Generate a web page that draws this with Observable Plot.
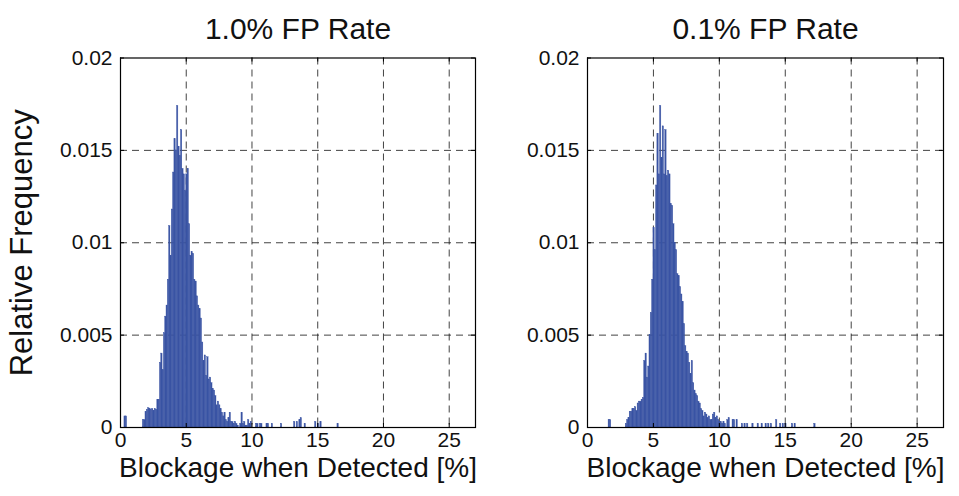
<!DOCTYPE html>
<html><head><meta charset="utf-8">
<script src="https://cdn.jsdelivr.net/npm/d3@7"></script>
<script src="https://cdn.jsdelivr.net/npm/@observablehq/plot@0.6"></script>
<style>
html,body{margin:0;padding:0;background:#fff;}
#wrap{position:relative;width:959px;height:496px;overflow:hidden;background:#fff;}
#wrap svg{position:absolute;top:0;}
</style></head><body><div id="wrap"></div>
<script>
const panelTitles = ["1.0% FP Rate", "0.1% FP Rate"];
const xLabel = "Blockage when Detected [%]";
const yLabel = "Relative Frequency";
const xTicks = [0, 5, 10, 15, 20, 25];
const yTicks = [0, 0.005, 0.01, 0.015, 0.02];
const yTickLabels = ["0", "0.005", "0.01", "0.015", "0.02"];
const binWidth = 0.1;

// [bin start, relative frequency] — 1.0% FP rate
const fp10Hist = [
  [0.3,0.0006],[0.4,0.0006],
  [1.7,0.0004],[1.8,0.0004],[1.9,0.00084],[2.0,0.00095],[2.1,0.00104],[2.2,0.001],[2.3,0.00095],[2.4,0.001],
  [2.5,0.0009],[2.6,0.001],[2.7,0.00095],[2.8,0.0015],[2.9,0.0015],[3.0,0.0035],[3.1,0.004],[3.2,0.0031],
  [3.3,0.0051],[3.4,0.006],[3.5,0.0066],[3.6,0.008],[3.7,0.0109],[3.8,0.0093],[3.9,0.0118],[4.0,0.0138],
  [4.1,0.0156],[4.2,0.015],[4.3,0.0174],[4.4,0.0152],[4.5,0.0147],[4.6,0.0161],[4.7,0.014],[4.8,0.0137],
  [4.9,0.0128],[5.0,0.0137],[5.1,0.014],[5.2,0.011],[5.3,0.0093],[5.4,0.0095],[5.5,0.0094],[5.6,0.008],
  [5.7,0.0079],[5.8,0.0071],[5.9,0.0066],[6.0,0.0064],[6.1,0.0059],[6.2,0.0046],[6.3,0.0036],[6.4,0.0039],
  [6.5,0.0028],[6.6,0.0038],[6.7,0.0026],[6.8,0.0027],[6.9,0.0024],[7.0,0.0021],[7.1,0.002],[7.2,0.0017],
  [7.3,0.0012],[7.4,0.0014],[7.5,0.0012],[7.6,0.001],[7.7,0.0008],[7.8,0.0006],[7.9,0.0008],[8.0,0.0004],
  [8.1,0.0003],[8.2,0.0005],[8.3,0.0008],[8.4,0.0003],[8.5,0.0003],[8.6,0.0002],[8.7,0.0003],[8.8,0.0002],
  [8.9,0.0001],[9.1,0.0002],[9.2,0.0008],[9.3,0.0002],[9.4,0.0003],[9.5,0.0001],[9.6,0.0001],[9.7,0.0004],
  [9.8,0.0002],[9.9,0.0003],[10.3,0.0002],[10.4,0.0002],[10.6,0.0002],[10.7,0.0002],[11.1,0.0002],
  [11.2,0.0002],[11.5,0.0002],[12.2,0.0002],[13.2,0.0003],[13.4,0.0003],[13.6,0.0004],[13.7,0.0005],
  [14.0,0.0002],[14.8,0.0003],[15.0,0.0002],[15.2,0.0003],[16.5,0.0002]
];

// [bin start, relative frequency] — 0.1% FP rate
const fp01Hist = [
  [1.6,0.0004],[1.7,0.0004],[2.9,0.0002],[3.0,0.0004],[3.1,0.0005],[3.2,0.00085],[3.3,0.00085],[3.4,0.001],
  [3.5,0.001],[3.6,0.0011],[3.7,0.0009],[3.8,0.0013],[3.9,0.0014],[4.0,0.0014],[4.1,0.0015],[4.2,0.0016],
  [4.3,0.0036],[4.4,0.004],[4.5,0.0027],[4.6,0.0033],[4.7,0.005],[4.8,0.0062],[4.9,0.008],[5.0,0.0108],
  [5.1,0.0096],[5.2,0.0131],[5.3,0.0159],[5.4,0.0137],[5.5,0.0174],[5.6,0.0146],[5.7,0.0163],[5.8,0.0137],
  [5.9,0.0161],[6.0,0.0136],[6.1,0.0139],[6.2,0.0137],[6.3,0.0121],[6.4,0.012],[6.5,0.011],[6.6,0.01],
  [6.7,0.0096],[6.8,0.0083],[6.9,0.0082],[7.0,0.0076],[7.1,0.0072],[7.2,0.0068],[7.3,0.0056],[7.4,0.0044],
  [7.5,0.0041],[7.6,0.004],[7.7,0.0035],[7.8,0.0029],[7.9,0.0036],[8.0,0.0024],[8.1,0.002],[8.2,0.0018],
  [8.3,0.0017],[8.4,0.0014],[8.5,0.0013],[8.6,0.001],[8.7,0.0009],[8.8,0.0006],[8.9,0.0008],[9.0,0.0007],
  [9.1,0.0005],[9.2,0.0006],[9.3,0.0004],[9.4,0.0004],[9.5,0.0007],[9.6,0.0008],[9.7,0.0005],[9.8,0.0006],
  [9.9,0.0004],[10.0,0.0003],[10.1,0.0003],[10.2,0.0002],[10.3,0.0003],[10.4,0.0002],[10.6,0.0004],
  [10.7,0.0005],[11.0,0.0004],[11.1,0.0004],[11.3,0.0004],[11.7,0.0002],[11.9,0.0002],[12.1,0.0002],
  [12.5,0.0002],[12.9,0.0002],[13.2,0.0002],[13.5,0.0002],[13.7,0.0002],[13.9,0.0002],[14.3,0.0004],
  [14.6,0.0002],[14.8,0.0002],[15.0,0.0002],[15.5,0.0002],[15.7,0.0002],[17.2,0.0002]
];

const barColor = "#3a54a4";
const fontFamily = "'Liberation Sans', Arial, Helvetica, sans-serif";
const W = 480, H = 496, MT = 57.5, MB = 69;
const plotH = H - MT - MB;
const tickLen = 4;

function panel(hist, title, ml, mr, withYLabel) {
  const data = hist.map(([x, f]) => ({x1: x, x2: x + binWidth, f}));
  const plotW = W - ml - mr;
  const tY = tickLen * 0.02 / plotH;
  const tX = tickLen * 27 / plotW;
  const marks = [
    Plot.gridX(xTicks.filter(t => t > 0), {stroke: "#222", strokeOpacity: 0.85, strokeDasharray: "7,5", strokeWidth: 1}),
    Plot.gridY(yTicks.filter(t => t > 0 && t < 0.02), {stroke: "#222", strokeOpacity: 0.85, strokeDasharray: "7,5", strokeWidth: 1}),
    Plot.rectY(data, {x1: "x1", x2: "x2", y: "f", fill: barColor, stroke: barColor, strokeWidth: 0.4}),
    Plot.ruleX(xTicks, {x: d => d, y1: 0, y2: tY, stroke: "#000"}),
    Plot.ruleX(xTicks, {x: d => d, y1: 0.02 - tY, y2: 0.02, stroke: "#000"}),
    Plot.ruleY(yTicks, {y: d => d, x1: 0, x2: tX, stroke: "#000"}),
    Plot.ruleY(yTicks, {y: d => d, x1: 27 - tX, x2: 27, stroke: "#000"}),
    Plot.frame({stroke: "#000", strokeWidth: 1.2}),
    Plot.axisX({ticks: xTicks, tickSize: 0, tickPadding: 5, label: null, fontSize: 21}),
    Plot.axisY({ticks: yTicks, tickSize: 0, tickPadding: 8, label: null, fontSize: 21,
      tickFormat: d => yTickLabels[yTicks.indexOf(d)]}),
    Plot.text([title], {frameAnchor: "top", dy: -29, fontSize: 30, lineAnchor: "middle", text: d => d, fill: "#111"}),
    Plot.text([xLabel], {frameAnchor: "bottom", dy: 41, fontSize: 28, lineAnchor: "middle", text: d => d, fill: "#111"})
  ];
  if (withYLabel) {
    marks.push(Plot.text([yLabel], {frameAnchor: "left", dx: 22 - ml, rotate: -90, fontSize: 31,
      textAnchor: "middle", lineAnchor: "middle", text: d => d, fill: "#111"}));
  }
  return Plot.plot({
    width: W, height: H,
    marginLeft: ml, marginRight: mr, marginTop: MT, marginBottom: MB,
    x: {domain: [0, 27]},
    y: {domain: [0, 0.02]},
    style: {fontFamily, fontSize: "21px", color: "#111", background: "transparent", overflow: "visible"},
    marks
  });
}

const wrap = document.getElementById("wrap");
const a = panel(fp10Hist, panelTitles[0], 120, 5, true);
a.style.left = "0px";
const b = panel(fp01Hist, panelTitles[1], 108, 16, false);
b.style.left = "479px";
wrap.appendChild(a);
wrap.appendChild(b);
</script>
</body></html>
